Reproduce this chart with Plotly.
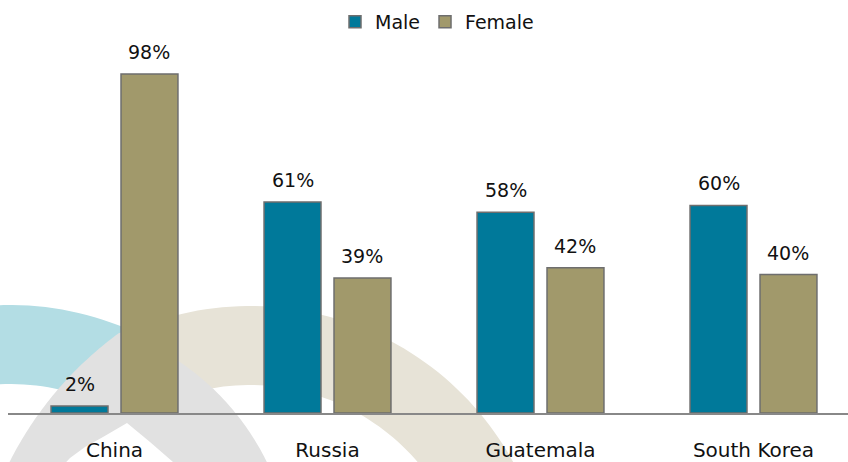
import math
import plotly.graph_objects as go

# ---- data ----
categories = ["China", "Russia", "Guatemala", "South Korea"]
male = [2, 61, 58, 60]
female = [98, 39, 42, 40]
series_names = ["Male", "Female"]

W, H = 848, 462
MALE_C = "#00799A"
FEMALE_C = "#A1996B"
EDGE = "#6E6E6E"
FONT = "DejaVu Sans"

# layout geometry (pixels)
plot_left = 8
cat_px = 213.0
baseline = 413
px_per_unit = 3.46
plot_top = 40
bargap = 0.343
bargroupgap = 0.186

x_max = (W - plot_left) / cat_px - 0.5
y_max = (baseline - plot_top) / px_per_unit


def P(px, py):
    return px / W, 1 - py / H


def arc_pts(cx, cy, r, a0, a1, n=60):
    pts = []
    for k in range(n + 1):
        a = math.radians(a0 + (a1 - a0) * k / n)
        pts.append((cx + r * math.cos(a), cy - r * math.sin(a)))
    return pts


def path_from(pts):
    s = []
    for k, (px, py) in enumerate(pts):
        x, y = P(px, py)
        s.append(("M" if k == 0 else "L") + f"{x:.5f},{y:.5f}")
    return " ".join(s) + " Z"


def ring(cx, cy, r0, r1, a0, a1):
    return arc_pts(cx, cy, r1, a0, a1) + arc_pts(cx, cy, r0, a1, a0)


def circ_x(cx, cy, r, py, side):
    d = math.sqrt(max(r * r - (py - cy) ** 2, 0))
    return cx + side * d


shapes = []
# light blue ring
shapes.append(dict(type="path", path=path_from(ring(10, 605, 221, 300, 64, 160)),
                   fillcolor="#B3DDE4", line=dict(width=0), layer="below",
                   xref="paper", yref="paper"))
# beige ring
shapes.append(dict(type="path", path=path_from(ring(250, 606, 221, 300, 15, 109.5)),
                   fillcolor="#E7E3D7", line=dict(width=0), layer="below",
                   xref="paper", yref="paper"))
# grey pointed arch
gpts = []
ys = [500 - k * (500 - 332) / 50 for k in range(51)]
for py in ys:
    gpts.append((circ_x(331, 624, 360, py, -1), py))
for py in reversed(ys):
    gpts.append((circ_x(36, 575, 257, py, +1), py))
gpts += [(206, 492), (173, 462), (150, 442), (127, 423), (103, 437), (85, 447), (70, 458), (40, 490)]
shapes.append(dict(type="path", path=path_from(gpts),
                   fillcolor="#E1E1E1", line=dict(width=0), layer="below",
                   xref="paper", yref="paper"))

fig = go.Figure()
for name, vals, col in [(series_names[0], male, MALE_C), (series_names[1], female, FEMALE_C)]:
    fig.add_trace(go.Bar(
        name=name, x=categories, y=vals,
        marker=dict(color=col, line=dict(color=EDGE, width=1.5)),
        hoverinfo="skip",
    ))

slot = (1 - bargap) / 2
annotations = []
for i, vals in enumerate([male, female]):
    for j, v in enumerate(vals):
        annotations.append(dict(
            x=j + (i - 0.5) * slot, y=v, xref="x", yref="y",
            text=f"{v}%", showarrow=False, yanchor="middle", yshift=22,
            font=dict(family=FONT, size=19, color="#111111"),
        ))

fig.update_layout(
    width=W, height=H,
    margin=dict(l=0, r=0, t=0, b=0),
    paper_bgcolor="white", plot_bgcolor="rgba(0,0,0,0)",
    barmode="group", bargap=bargap, bargroupgap=bargroupgap,
    shapes=shapes, annotations=annotations,
    showlegend=True,
    legend=dict(orientation="h", x=437 / W, xanchor="center",
                y=1 - 3 / H, yanchor="top",
                font=dict(family=FONT, size=19, color="#111111"),
                bgcolor="rgba(0,0,0,0)"),
    xaxis=dict(domain=[plot_left / W, 1], range=[-0.5, x_max],
               showline=True, linecolor="#888888", linewidth=1.5,
               showgrid=False, zeroline=False, ticks="",
               ticklabelstandoff=18,
               tickfont=dict(family=FONT, size=20, color="#111111")),
    yaxis=dict(domain=[(H - baseline) / H, 1 - plot_top / H], range=[0, y_max],
               visible=False, showgrid=False, zeroline=False),
)

fig.write_html("out.html", config={"displayModeBar": False},
               post_script="document.body.style.margin='0';document.body.style.overflow='hidden';")
